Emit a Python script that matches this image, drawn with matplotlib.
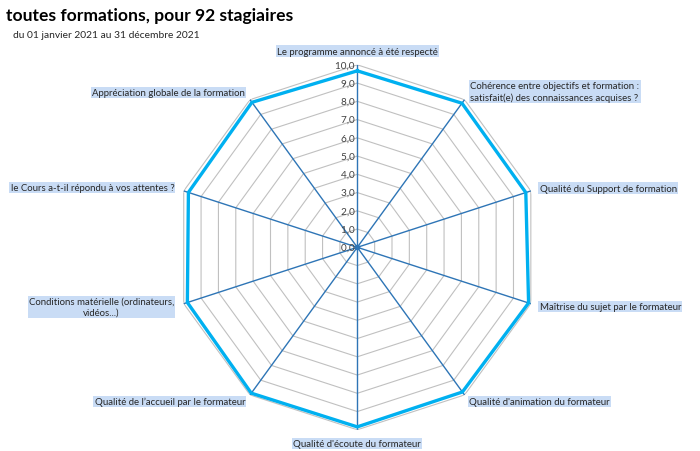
import numpy as np
import matplotlib
matplotlib.use("Agg")
import matplotlib.pyplot as plt

plt.rcParams['font.family'] = ['Lato', 'DejaVu Sans']

# données
criteres = [
    "Le programme annoncé à été respecté",
    "Cohérence entre objectifs et formation :\nsatisfait(e) des connaissances acquises ?",
    "Qualité du Support de formation",
    "Maîtrise du sujet par le formateur",
    "Qualité d'animation du formateur",
    "Qualité d'écoute du formateur",
    "Qualité de l’accueil par le formateur",
    "Conditions matérielle (ordinateurs,\nvidéos...)",
    "le Cours a-t-il répondu à vos attentes ?",
    "Appréciation globale de la formation",
]
notes = [9.67, 9.76, 9.71, 9.87, 9.80, 9.84, 9.88, 9.79, 9.73, 9.82]
niveaux = [0, 1, 2, 3, 4, 5, 6, 7, 8, 9, 10]
niveaux_txt = ["0,0", "1,0", "2,0", "3,0", "4,0", "5,0", "6,0", "7,0", "8,0", "9,0", "10,0"]

titre = "toutes formations, pour 92 stagiaires"
sous_titre = "du 01 janvier 2021 au 31 décembre 2021"

n = len(criteres)
angles = np.linspace(0, 2 * np.pi, n, endpoint=False)
angles_ferme = np.append(angles, angles[0])

fig = plt.figure(figsize=(7, 4.52), dpi=100)
ax = fig.add_axes([0.2497, 0.0469, 0.5214, 0.8075], projection='polar')
ax.set_theta_zero_location('N')
ax.set_theta_direction(-1)
ax.set_ylim(0, 10)
ax.grid(False)
ax.spines['polar'].set_visible(False)
ax.set_xticks([])
ax.set_yticks([])
ax.patch.set_alpha(0)

# grille polygonale
for lv in niveaux[1:]:
    ax.plot(angles_ferme, [lv] * (n + 1), color='#c0c0c0', lw=0.8, zorder=1)

# rayons
for a in angles:
    ax.plot([a, a], [0, 10], color='#2e75b6', lw=1.0, zorder=2)
ax.plot([0], [0], 'o', color='#2e75b6', ms=3, zorder=3)

# série
ax.plot(angles_ferme, np.append(notes, notes[0]), color='#00b0f0', lw=2.4,
        zorder=4, solid_joinstyle='miter')

# étiquettes de l'axe radial
for lv, txt in zip(niveaux, niveaux_txt):
    ax.text(0, lv, txt + " ", ha='right', va='center',
            fontsize=7.2, color='#404040', zorder=5)

# étiquettes des critères
bbox = dict(boxstyle='square,pad=0.12', fc='#c9dcf5', ec='none')
placements = [
    (0, 10.75, 'center', 'center', 'center'),
    (1, 10.55, 'left', 'center', 'left'),
    (2, 10.5, 'left', 'center', 'left'),
    (3, 10.5, 'left', 'center', 'left'),
    (4, 10.45, 'left', 'center', 'left'),
    (5, 10.75, 'center', 'center', 'center'),
    (6, 10.45, 'right', 'center', 'right'),
    (7, 10.55, 'right', 'center', 'center'),
    (8, 10.55, 'right', 'center', 'right'),
    (9, 10.5, 'right', 'center', 'right'),
]
for i, r, ha, va, ma in placements:
    ax.text(angles[i], r, criteres[i], ha=ha, va=va, multialignment=ma,
            fontsize=6.9, color='#262626', bbox=bbox, linespacing=1.3)

fig.text(0.008, 0.965, titre, fontsize=12.6, fontweight='bold', ha='left', va='center')
fig.text(0.018, 0.922, sous_titre, fontsize=7.4, ha='left', va='center', color='#262626')

fig.savefig('out.png', dpi=100)
